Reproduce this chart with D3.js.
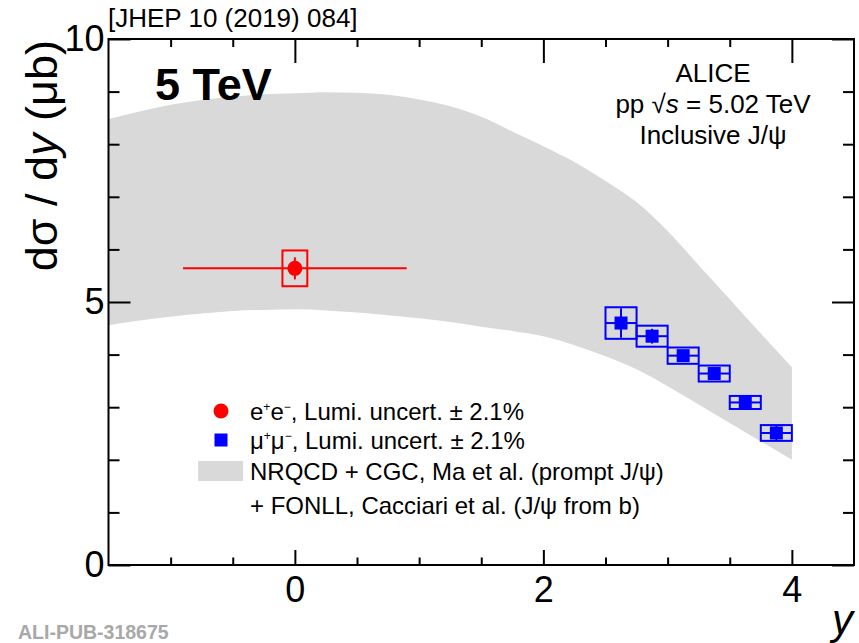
<!DOCTYPE html>
<html>
<head>
<meta charset="utf-8">
<script src="https://cdn.jsdelivr.net/npm/d3@7"></script>
<style>
  body { margin: 0; background: #fff; }
  svg { display: block; }
  text { font-family: "Liberation Sans", Arial, Helvetica, sans-serif; }
</style>
</head>
<body>
<svg id="chart" width="859" height="643"></svg>
<script>
// ---- Model band: NRQCD+CGC (prompt) + FONLL (non-prompt), lower/upper edges vs rapidity
const bandRapidity = [-1.5, -1.25, -1.0, -0.75, -0.5, -0.25, 0, 0.25, 0.5, 0.75, 1.0, 1.25, 1.5, 1.75, 2.0, 2.25, 2.5, 2.75, 3.0, 3.25, 3.5, 3.75, 4.0];
const bandHigh = [8.48, 8.62, 8.75, 8.84, 8.90, 8.95, 8.97, 8.99, 8.98, 8.94, 8.85, 8.72, 8.52, 8.24, 7.96, 7.66, 7.30, 6.90, 6.35, 5.70, 5.05, 4.40, 3.76];
const bandLow = [4.56, 4.65, 4.72, 4.78, 4.83, 4.85, 4.86, 4.84, 4.80, 4.75, 4.69, 4.62, 4.53, 4.45, 4.35, 4.18, 3.97, 3.72, 3.40, 3.05, 2.70, 2.35, 2.00];

// ---- e+e- channel, mid rapidity |y| < 0.9
const eeRapidity = [0];
const eeHalfWidth = [0.9];
const eeXsec = [5.64];
const eeStat = [0.21];
const eeSyst = [0.34];
const eeBoxHalf = 0.1;

// ---- mu+mu- channel, forward rapidity 2.5 < y < 4
const muRapLow = [2.5, 2.75, 3.0, 3.25, 3.5, 3.75];
const muRapHigh = [2.75, 3.0, 3.25, 3.5, 3.75, 4.0];
const muXsec = [4.60, 4.35, 3.98, 3.64, 3.09, 2.51];
const muStat = [0.28, 0.14, 0.09, 0.08, 0.07, 0.14];
const muSyst = [0.30, 0.20, 0.155, 0.152, 0.124, 0.15];

// ---- axes
const xMajorTicks = [0, 2, 4];
const xMinorTicks = [-1, -0.5, 0.5, 1, 1.5, 2.5, 3, 3.5];
const yMajorTicks = [0, 5, 10];
const yMinorTicks = [1, 2, 3, 4, 6, 7, 8, 9];

const svg = d3.select("#chart");
const padL = 108.5, padR = 854, padT = 39, padB = 565;
const x = d3.scaleLinear().domain([-1.5, 4.5]).range([padL, padR]);
const y = d3.scaleLinear().domain([0, 10]).range([padB, padT]);

const RED = "#ff0000", BLUE = "#0000ff", BAND = "#d9d9d9";

// theory band
const band = bandRapidity.map((r, i) => ({ r, lo: bandLow[i], hi: bandHigh[i] }));
svg.append("path")
  .datum(band)
  .attr("fill", BAND)
  .attr("d", d3.area().x(d => x(d.r)).y0(d => y(d.lo)).y1(d => y(d.hi)).curve(d3.curveMonotoneX));

// axes with inward ticks
function axisStyle(g) {
  g.select(".domain").remove();
  g.selectAll(".tick line").attr("stroke", "#000").attr("stroke-width", 2);
  g.selectAll(".tick text").attr("fill", "#000").attr("font-size", 36)
    .attr("font-family", "\"Liberation Sans\", Arial, sans-serif");
}
svg.append("g").attr("transform", `translate(0,${padB})`)
  .call(d3.axisBottom(x).tickValues(xMajorTicks).tickSizeInner(-15).tickSizeOuter(0).tickPadding(11).tickFormat(d3.format("d")))
  .call(axisStyle);
svg.append("g").attr("transform", `translate(0,${padB})`)
  .call(d3.axisBottom(x).tickValues(xMinorTicks).tickSizeInner(-7.5).tickSizeOuter(0).tickFormat(""))
  .call(axisStyle);
svg.append("g").attr("transform", `translate(0,${padT})`)
  .call(d3.axisTop(x).tickValues(xMajorTicks).tickSizeInner(-24).tickSizeOuter(0).tickFormat(""))
  .call(axisStyle);
svg.append("g").attr("transform", `translate(0,${padT})`)
  .call(d3.axisTop(x).tickValues(xMinorTicks).tickSizeInner(-8).tickSizeOuter(0).tickFormat(""))
  .call(axisStyle);
svg.append("g").attr("transform", `translate(${padL},0)`)
  .call(d3.axisLeft(y).tickValues(yMajorTicks).tickSizeInner(-22).tickSizeOuter(0).tickPadding(4).tickFormat(d3.format("d")))
  .call(axisStyle);
svg.append("g").attr("transform", `translate(${padL},0)`)
  .call(d3.axisLeft(y).tickValues(yMinorTicks).tickSizeInner(-11).tickSizeOuter(0).tickFormat(""))
  .call(axisStyle);
svg.append("g").attr("transform", `translate(${padR},0)`)
  .call(d3.axisRight(y).tickValues(yMajorTicks).tickSizeInner(-22).tickSizeOuter(0).tickFormat(""))
  .call(axisStyle);
svg.append("g").attr("transform", `translate(${padR},0)`)
  .call(d3.axisRight(y).tickValues(yMinorTicks).tickSizeInner(-11).tickSizeOuter(0).tickFormat(""))
  .call(axisStyle);

// frame
svg.append("rect")
  .attr("x", padL).attr("y", padT)
  .attr("width", padR - padL).attr("height", padB - padT)
  .attr("fill", "none").attr("stroke", "#000").attr("stroke-width", 2);

// e+e- point: bin width bar, systematic box, stat bar, marker
const ee = eeRapidity.map((r, i) => ({ r, hw: eeHalfWidth[i], v: eeXsec[i], st: eeStat[i], sy: eeSyst[i] }));
const gEE = svg.append("g");
gEE.selectAll("line.xbar").data(ee).join("line").attr("class", "xbar")
  .attr("x1", d => x(d.r - d.hw)).attr("x2", d => x(d.r + d.hw))
  .attr("y1", d => y(d.v)).attr("y2", d => y(d.v))
  .attr("stroke", RED).attr("stroke-width", 2);
gEE.selectAll("rect.sys").data(ee).join("rect").attr("class", "sys")
  .attr("x", d => x(d.r - eeBoxHalf)).attr("width", d => x(d.r + eeBoxHalf) - x(d.r - eeBoxHalf))
  .attr("y", d => y(d.v + d.sy)).attr("height", d => y(d.v - d.sy) - y(d.v + d.sy))
  .attr("fill", "none").attr("stroke", RED).attr("stroke-width", 2);
gEE.selectAll("line.stat").data(ee).join("line").attr("class", "stat")
  .attr("x1", d => x(d.r)).attr("x2", d => x(d.r))
  .attr("y1", d => y(d.v - d.st)).attr("y2", d => y(d.v + d.st))
  .attr("stroke", RED).attr("stroke-width", 2);
gEE.selectAll("circle").data(ee).join("circle")
  .attr("cx", d => x(d.r)).attr("cy", d => y(d.v)).attr("r", 7.5)
  .attr("fill", RED);

// mu+mu- points
const mu = muRapLow.map((lo, i) => ({ lo, hi: muRapHigh[i], v: muXsec[i], st: muStat[i], sy: muSyst[i] }));
const gMu = svg.append("g");
gMu.selectAll("rect.sys").data(mu).join("rect").attr("class", "sys")
  .attr("x", d => x(d.lo)).attr("width", d => x(d.hi) - x(d.lo))
  .attr("y", d => y(d.v + d.sy)).attr("height", d => y(d.v - d.sy) - y(d.v + d.sy))
  .attr("fill", "none").attr("stroke", BLUE).attr("stroke-width", 2);
gMu.selectAll("line.xbar").data(mu).join("line").attr("class", "xbar")
  .attr("x1", d => x(d.lo)).attr("x2", d => x(d.hi))
  .attr("y1", d => y(d.v)).attr("y2", d => y(d.v))
  .attr("stroke", BLUE).attr("stroke-width", 2);
gMu.selectAll("line.stat").data(mu).join("line").attr("class", "stat")
  .attr("x1", d => x((d.lo + d.hi) / 2)).attr("x2", d => x((d.lo + d.hi) / 2))
  .attr("y1", d => y(d.v - d.st)).attr("y2", d => y(d.v + d.st))
  .attr("stroke", BLUE).attr("stroke-width", 2);
gMu.selectAll("rect.marker").data(mu).join("rect").attr("class", "marker")
  .attr("x", d => x((d.lo + d.hi) / 2) - 6.5).attr("y", d => y(d.v) - 6.5)
  .attr("width", 13).attr("height", 13).attr("fill", BLUE);

// axis titles
svg.append("text")
  .attr("transform", "translate(57,40) rotate(-90)")
  .attr("text-anchor", "end").attr("font-size", 45).attr("fill", "#000")
  .call(t => {
    t.append("tspan").text("dσ / d");
    t.append("tspan").attr("font-style", "italic").text("y");
    t.append("tspan").text(" (μb)");
  });
svg.append("text")
  .attr("x", 853).attr("y", 634).attr("text-anchor", "end")
  .attr("font-size", 42).attr("font-style", "italic").attr("fill", "#000")
  .text("y");

// labels
svg.append("text").attr("x", 108).attr("y", 27).attr("font-size", 26).text("[JHEP 10 (2019) 084]");
svg.append("text").attr("x", 155).attr("y", 100).attr("font-size", 45).attr("font-weight", "bold").text("5 TeV");

const info = svg.append("g").attr("text-anchor", "middle").attr("font-size", 26);
info.append("text").attr("x", 713).attr("y", 82).text("ALICE");
info.append("text").attr("x", 713).attr("y", 113).call(t => {
  t.append("tspan").text("pp ");
  t.append("tspan").text("√");
  t.append("tspan").attr("font-style", "italic").text("s");
  t.append("tspan").text(" = 5.02 TeV");
});
info.append("text").attr("x", 713).attr("y", 144).text("Inclusive J/ψ");

// legend
const legRows = [411, 440, 471, 505];
const leg = svg.append("g").attr("font-size", 24);
leg.append("circle").attr("cx", 221).attr("cy", legRows[0]).attr("r", 7.5).attr("fill", RED);
leg.append("rect").attr("x", 214.5).attr("y", legRows[1] - 6.5).attr("width", 13).attr("height", 13).attr("fill", BLUE);
leg.append("rect").attr("x", 198).attr("y", legRows[2] - 10).attr("width", 45).attr("height", 20).attr("fill", BAND);

// particle pair label with small raised charge signs
function pairLabel(t, p) {
  t.append("tspan").text(p);
  t.append("tspan").attr("dy", -9).attr("font-size", 12).text("+");
  t.append("tspan").attr("dy", 9).text(p);
  t.append("tspan").attr("dy", -9).attr("font-size", 12).text("−");
  t.append("tspan").attr("dy", 9).text(", Lumi. uncert. ± 2.1%");
}
leg.append("text").attr("x", 250).attr("y", legRows[0] + 8.5).call(t => pairLabel(t, "e"));
leg.append("text").attr("x", 250).attr("y", legRows[1] + 8.5).call(t => pairLabel(t, "μ"));
leg.append("text").attr("x", 250).attr("y", legRows[2] + 8.5).text("NRQCD + CGC, Ma et al. (prompt J/ψ)");
leg.append("text").attr("x", 250).attr("y", legRows[3] + 8.5).text("+ FONLL, Cacciari et al. (J/ψ from b)");

// publication id
svg.append("text").attr("x", 18).attr("y", 639)
  .attr("font-family", "\"Liberation Mono\", \"DejaVu Sans Mono\", monospace")
  .attr("font-weight", "bold").attr("font-size", 19.5).attr("fill", "#a8a8a8")
  .text("ALI-PUB-318675");
</script>
</body>
</html>
